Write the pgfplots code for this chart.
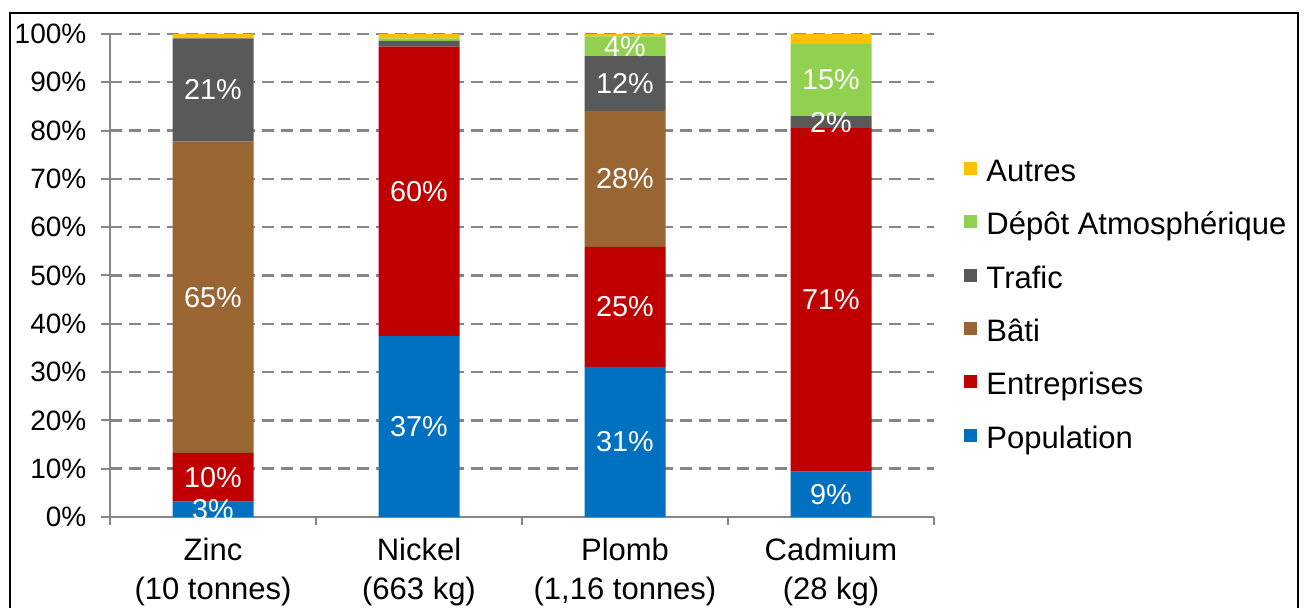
\documentclass[border=0pt]{standalone}
\usepackage{fontspec}
\setmainfont{Liberation Sans}
\usepackage{pgfplots}
\usepackage{pgfplotstable}
\pgfplotsset{compat=1.18}

\definecolor{cpop}{HTML}{0070C0}
\definecolor{cent}{HTML}{C00000}
\definecolor{cbati}{HTML}{996633}
\definecolor{ctraf}{HTML}{595959}
\definecolor{cdepot}{HTML}{92D050}
\definecolor{cautres}{HTML}{FFC000}
\definecolor{axgray}{HTML}{868686}

% parts in % for each metal (Zinc, Nickel, Plomb, Cadmium)
\pgfplotstableread{
x pop ent bati trafic depot autres
0 3.2 10.1 64.4 21.4 0.0 0.9
1 37.5 59.9 0.0 1.2 0.5 0.9
2 31.1 24.8 28.2 11.3 4.1 0.5
3 9.4 71.1 0.0 2.5 14.9 2.1
}\parts

\begin{document}
\begin{tikzpicture}
\path[use as bounding box] (-55pt,-45.5pt) rectangle (597pt,258.5pt);
\draw[line width=1.25pt] (-50pt,-50pt) -- (-50pt,252pt) -- (594pt,252pt) -- (594pt,-50pt);
\begin{axis}[
  at={(0,0)}, anchor=south west,
  scale only axis, width=412pt, height=241.5pt,
  xmin=-0.5, xmax=3.5, ymin=0, ymax=100,
  ybar stacked, bar width=40.5pt,
  axis lines=left,
  axis line style={-, draw=axgray, line width=1pt},
  tick style={draw=axgray, line width=1pt},
  tick align=outside,
  major tick length=4.5pt, minor tick length=4pt,
  xtick={0,1,2,3},
  xticklabels={{Zinc\\(10 tonnes)},{Nickel\\(663 kg)},{Plomb\\(1,16 tonnes)},{Cadmium\\(28 kg)}},
  every major x tick/.append style={draw=none},
  minor xtick={-0.5,0.5,1.5,2.5,3.5},
  xticklabel style={align=center, font=\fontsize{15.5}{19.5}\selectfont, yshift=-2.3pt},
  ytick={0,10,...,100},
  yticklabels={0\%,10\%,20\%,30\%,40\%,50\%,60\%,70\%,80\%,90\%,100\%},
  yticklabel style={font=\fontsize{14}{16}\selectfont, xshift=-3.8pt},
  ymajorgrids,
  major grid style={draw=axgray, line width=1.2pt, dash pattern=on 6pt off 3.5pt},
  reverse legend,
  legend cell align=left,
  legend image code/.code={\fill[#1] (0pt,-0.5pt) rectangle (6.5pt,6pt);},
  legend style={draw=none, fill=none, at={(1.0365,0.434)}, anchor=west,
    font=\fontsize{15.5}{18}\selectfont, inner sep=0pt, row sep=8.2pt,
    /tikz/every odd column/.append style={column sep=2.5pt},
    nodes={inner sep=2pt, text height=11pt, text depth=3.5pt}},
]
\addplot[fill=cpop, draw=none] table[x=x, y=pop] {\parts};
\addlegendentry{Population}
\addplot[fill=cent, draw=none] table[x=x, y=ent] {\parts};
\addlegendentry{Entreprises}
\addplot[fill=cbati, draw=none] table[x=x, y=bati] {\parts};
\addlegendentry{Bâti}
\addplot[fill=ctraf, draw=none] table[x=x, y=trafic] {\parts};
\addlegendentry{Trafic}
\addplot[fill=cdepot, draw=none] table[x=x, y=depot] {\parts};
\addlegendentry{Dépôt Atmosphérique}
\addplot[fill=cautres, draw=none] table[x=x, y=autres] {\parts};
\addlegendentry{Autres}
\end{axis}
% labels centred in each segment
\begin{axis}[
  at={(0,0)}, anchor=south west,
  scale only axis, width=412pt, height=241.5pt,
  xmin=-0.5, xmax=3.5, ymin=0, ymax=100,
  hide axis,
]
\addplot[only marks, mark=none, point meta=explicit symbolic,
  nodes near coords={\pgfplotspointmeta\%},
  every node near coord/.append style={anchor=center, text=white,
    font=\fontsize{14.4}{16}\selectfont}]
  table[x=x, y=y, meta=lab] {
x y lab
0 1.6 3
0 8.25 10
0 45.5 65
0 88.4 21
1 18.75 37
1 67.45 60
2 15.55 31
2 43.5 25
2 70.0 28
2 89.75 12
2 97.45 4
3 4.7 9
3 44.95 71
3 81.75 2
3 90.45 15
};
\end{axis}
\end{tikzpicture}
\end{document}
